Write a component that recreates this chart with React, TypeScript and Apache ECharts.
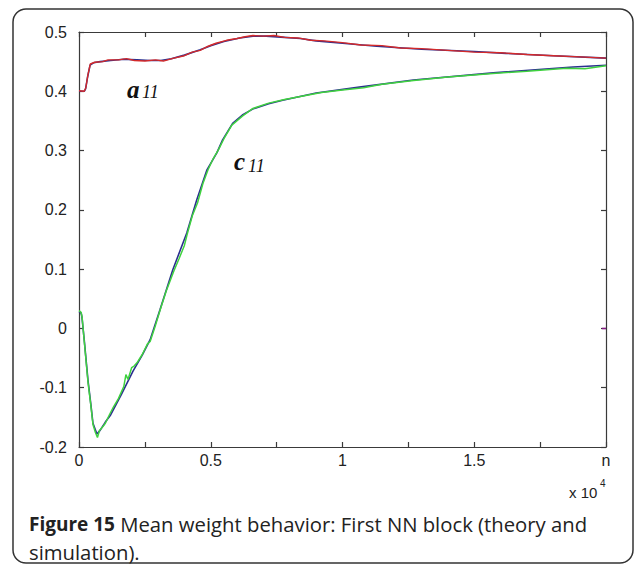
import React, { useEffect, useRef } from "react";
import * as echarts from "echarts";

// x in units of 10^4 iterations
const xTicks = [0, 0.5, 1, 1.5, 2];
const xTickLabels = ["0", "0.5", "1", "1.5", "n"];

const a11Theory: number[][] = [
  [0, 0.4], [0.02, 0.4], [0.025, 0.404], [0.033, 0.425], [0.042, 0.444], [0.055, 0.448],
  [0.08, 0.45], [0.12, 0.452], [0.17, 0.454], [0.22, 0.453], [0.27, 0.452], [0.31, 0.452],
  [0.35, 0.455], [0.4, 0.461], [0.46, 0.47], [0.5, 0.477], [0.55, 0.484], [0.61, 0.49],
  [0.66, 0.493], [0.71, 0.493], [0.78, 0.491], [0.84, 0.489], [0.9, 0.485], [1.0, 0.481],
  [1.13, 0.476], [1.3, 0.471], [1.5, 0.467], [1.62, 0.464], [1.8, 0.46], [2.0, 0.456],
];

const a11Sim: number[][] = [
  [0, 0.401], [0.02, 0.4], [0.026, 0.406], [0.034, 0.428], [0.043, 0.446], [0.06, 0.449],
  [0.09, 0.45], [0.11, 0.453], [0.15, 0.453], [0.18, 0.455], [0.21, 0.452], [0.25, 0.451],
  [0.29, 0.453], [0.32, 0.451], [0.36, 0.456], [0.4, 0.46], [0.43, 0.466], [0.46, 0.469],
  [0.49, 0.476], [0.52, 0.481], [0.56, 0.486], [0.6, 0.489], [0.63, 0.492], [0.66, 0.494],
  [0.7, 0.493], [0.74, 0.494], [0.78, 0.491], [0.83, 0.49], [0.88, 0.486], [0.93, 0.485],
  [1.0, 0.482], [1.07, 0.478], [1.15, 0.477], [1.22, 0.473], [1.3, 0.472], [1.4, 0.469],
  [1.5, 0.466], [1.6, 0.465], [1.7, 0.462], [1.8, 0.46], [1.9, 0.458], [2.0, 0.456],
];

const c11Theory: number[][] = [
  [0, 0.028], [0.008, 0.026], [0.011, 0.02], [0.02, -0.02], [0.034, -0.087], [0.045, -0.128],
  [0.053, -0.16], [0.068, -0.178], [0.08, -0.172], [0.1, -0.158], [0.12, -0.146], [0.16, -0.112],
  [0.205, -0.072], [0.24, -0.045], [0.27, -0.019], [0.307, 0.031], [0.356, 0.099], [0.409, 0.161],
  [0.447, 0.217], [0.485, 0.267], [0.523, 0.296], [0.545, 0.318], [0.583, 0.346], [0.62, 0.36],
  [0.659, 0.37], [0.72, 0.379], [0.773, 0.385], [0.9, 0.397], [1.064, 0.407], [1.269, 0.419],
  [1.572, 0.431], [1.875, 0.441], [2.0, 0.444],
];

const c11Sim: number[][] = [
  [0, 0.03], [0.008, 0.027], [0.012, 0.018], [0.02, -0.022], [0.034, -0.09], [0.045, -0.13],
  [0.053, -0.162], [0.062, -0.175], [0.07, -0.184], [0.078, -0.172], [0.09, -0.166], [0.1, -0.16],
  [0.115, -0.146], [0.13, -0.133], [0.15, -0.118], [0.17, -0.098], [0.178, -0.078], [0.186, -0.086],
  [0.2, -0.066], [0.21, -0.063], [0.22, -0.058], [0.24, -0.044], [0.26, -0.026], [0.27, -0.022],
  [0.29, 0.005], [0.31, 0.034], [0.33, 0.062], [0.36, 0.097], [0.38, 0.118], [0.4, 0.14],
  [0.41, 0.158], [0.43, 0.19], [0.45, 0.212], [0.47, 0.244], [0.49, 0.268], [0.51, 0.287],
  [0.53, 0.302], [0.55, 0.32], [0.58, 0.343], [0.62, 0.358], [0.66, 0.371], [0.72, 0.38],
  [0.78, 0.386], [0.85, 0.392], [0.92, 0.398], [1.0, 0.402], [1.08, 0.406], [1.15, 0.412],
  [1.27, 0.418], [1.4, 0.424], [1.57, 0.43], [1.7, 0.434], [1.85, 0.439], [1.92, 0.438], [2.0, 0.443],
];

const endMark: number[][] = [[1.985, 0.0], [2.0, 0.0]];

const AXIS = "#3a3a3a";
const LABEL_FONT = "'Liberation Sans', Arial, sans-serif";
const SERIF = "'Liberation Serif', 'Times New Roman', serif";

export default function App() {
  const ref = useRef<HTMLDivElement>(null);

  useEffect(() => {
    if (!ref.current) return;
    const chart = echarts.init(ref.current, undefined, { renderer: "svg" });

    const baseX = {
      type: "value" as const,
      min: 0,
      max: 2,
      interval: 0.5,
      axisLine: { show: true, onZero: false, lineStyle: { color: AXIS, width: 1.2 } },
      axisTick: { show: true, inside: true, length: 5, lineStyle: { color: AXIS, width: 1.2 } },
      minorTick: { show: true, splitNumber: 2, length: 5, lineStyle: { color: AXIS, width: 1.2 } },
      splitLine: { show: false },
    };
    const baseY = {
      type: "value" as const,
      min: -0.2,
      max: 0.5,
      interval: 0.1,
      axisLine: { show: true, onZero: false, lineStyle: { color: AXIS, width: 1.2 } },
      axisTick: { show: true, inside: true, length: 5, lineStyle: { color: AXIS, width: 1.2 } },
      splitLine: { show: false },
    };

    chart.setOption({
      animation: false,
      backgroundColor: "#ffffff",
      grid: { left: 79, right: 31, top: 32, bottom: 121 },
      xAxis: [
        {
          ...baseX,
          position: "bottom",
          axisLabel: {
            margin: 5,
            fontSize: 16,
            color: "#222",
            fontFamily: LABEL_FONT,
            formatter: (v: number) => {
              const i = xTicks.findIndex((t) => Math.abs(t - v) < 1e-9);
              return i >= 0 ? xTickLabels[i] : "";
            },
          },
        },
        { ...baseX, position: "top", axisLabel: { show: false } },
      ],
      yAxis: [
        {
          ...baseY,
          position: "left",
          axisLabel: {
            margin: 12,
            fontSize: 16,
            color: "#222",
            fontFamily: LABEL_FONT,
            formatter: (v: number) => String(Math.round(v * 10) / 10),
          },
        },
        { ...baseY, position: "right", axisLabel: { show: false } },
      ],
      series: [
        {
          type: "line", data: a11Theory, showSymbol: false, xAxisIndex: 0, yAxisIndex: 0,
          lineStyle: { color: "#2b2f8f", width: 1.6 }, z: 2,
        },
        {
          type: "line", data: a11Sim, showSymbol: false, xAxisIndex: 0, yAxisIndex: 0,
          lineStyle: { color: "#d42a2a", width: 1.4 }, z: 3,
        },
        {
          type: "line", data: c11Theory, showSymbol: false, xAxisIndex: 0, yAxisIndex: 0,
          lineStyle: { color: "#2b2f8f", width: 1.6 }, z: 2,
        },
        {
          type: "line", data: c11Sim, showSymbol: false, xAxisIndex: 0, yAxisIndex: 0,
          lineStyle: { color: "#3fd23f", width: 1.5 }, z: 3,
        },
        {
          type: "line", data: endMark, showSymbol: false, xAxisIndex: 0, yAxisIndex: 0,
          lineStyle: { color: "#8a1a8a", width: 1.5 }, z: 3,
        },
      ],
      graphic: [
        {
          type: "rect",
          silent: true,
          z: -1,
          shape: { x: 13, y: 9, width: 620, height: 554, r: 13 },
          style: { fill: "none", stroke: "#333", lineWidth: 1.5 },
        },
        {
          type: "text", x: 127, y: 89,
          style: {
            text: "a", fill: "#111", verticalAlign: "middle",
            fontStyle: "italic", fontWeight: "bold", fontSize: 25, fontFamily: SERIF,
          },
        },
        {
          type: "text", x: 142, y: 92,
          style: {
            text: "11", fill: "#111", verticalAlign: "middle",
            fontStyle: "italic", fontSize: 18, fontFamily: SERIF,
          },
        },
        {
          type: "text", x: 234, y: 161,
          style: {
            text: "c", fill: "#111", verticalAlign: "middle",
            fontStyle: "italic", fontWeight: "bold", fontSize: 25, fontFamily: SERIF,
          },
        },
        {
          type: "text", x: 248, y: 166,
          style: {
            text: "11", fill: "#111", verticalAlign: "middle",
            fontStyle: "italic", fontSize: 18, fontFamily: SERIF,
          },
        },
        {
          type: "text", x: 569, y: 492,
          style: {
            text: "x 10", fill: "#222", verticalAlign: "middle",
            fontSize: 15, fontFamily: LABEL_FONT,
          },
        },
        {
          type: "text", x: 600, y: 483,
          style: {
            text: "4", fill: "#222", verticalAlign: "middle",
            fontSize: 10, fontFamily: LABEL_FONT,
          },
        },
        {
          type: "text", x: 29, y: 524,
          style: {
            text: "{b|Figure 15}{r| Mean weight behavior: First NN block (theory and}",
            fill: "#222",
            verticalAlign: "middle",
            fontSize: 20,
            fontFamily: "'Open Sans', sans-serif",
            rich: {
              b: { fontWeight: "bold", fontSize: 19, fontFamily: "'Open Sans', sans-serif", fill: "#222" },
              r: { fontWeight: "normal", fontSize: 20.3, fontFamily: "'Open Sans', sans-serif", fill: "#222" },
            },
          },
        },
        {
          type: "text", x: 29, y: 552,
          style: {
            text: "simulation).",
            fill: "#222",
            verticalAlign: "middle",
            fontSize: 20.3,
            fontFamily: "'Open Sans', sans-serif",
          },
        },
      ],
    });

    return () => chart.dispose();
  }, []);

  return (
    <div
      ref={ref}
      style={{ position: "fixed", left: 0, top: 0, width: 637, height: 568 }}
    />
  );
}
